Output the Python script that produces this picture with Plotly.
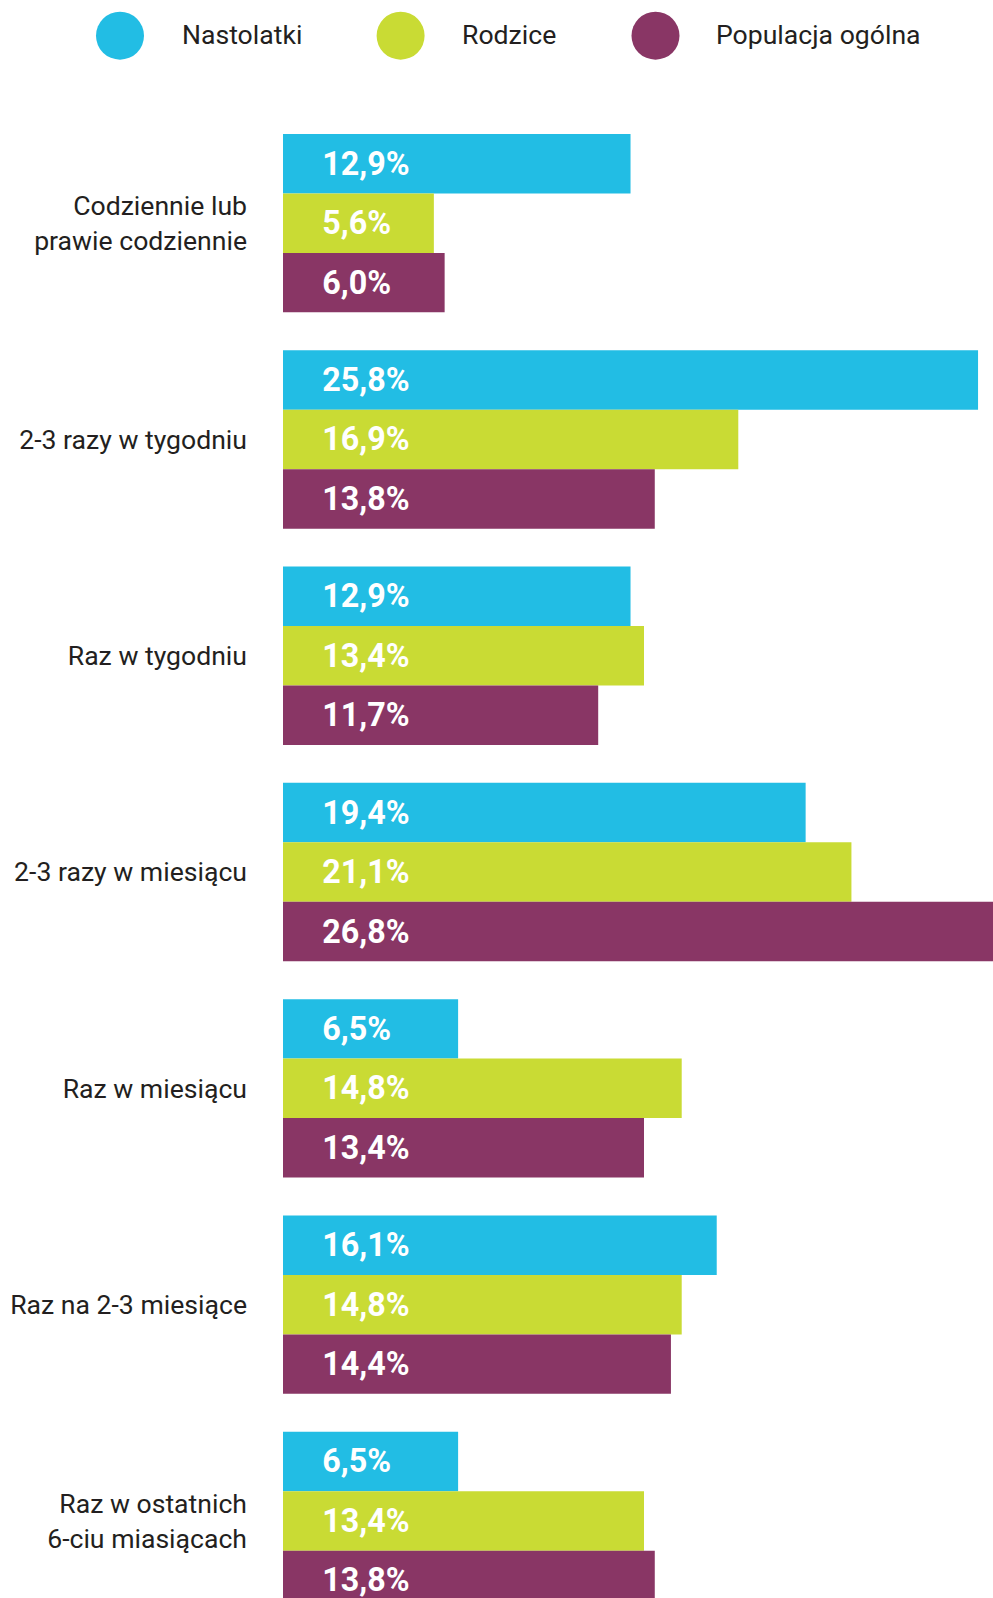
import plotly.graph_objects as go

categories = [
    "Codziennie lub<br>prawie codziennie",
    "2-3 razy w tygodniu",
    "Raz w tygodniu",
    "2-3 razy w miesiącu",
    "Raz w miesiącu",
    "Raz na 2-3 miesiące",
    "Raz w ostatnich<br>6-ciu miasiącach",
]
series_names = ["Nastolatki", "Rodzice", "Populacja ogólna"]
nastolatki = [12.9, 25.8, 12.9, 19.4, 6.5, 16.1, 6.5]
rodzice = [5.6, 16.9, 13.4, 21.1, 14.8, 14.8, 13.4]
populacja = [6.0, 13.8, 11.7, 26.8, 13.4, 14.4, 13.8]
colors = ["#22BDE4", "#C9DB34", "#893665"]

W, H = 993, 1598
L, T = 283, 115
PLOT_W, PLOT_H = W - L, H - T
PX_PER_PCT = 26.94
PITCH = 216.3

def fmt(v):
    return "\u2007" * 2 + f"{v:.1f}".replace(".", ",") + "%"

fig = go.Figure()
for name, vals, col in zip(series_names, [nastolatki, rodzice, populacja], colors):
    fig.add_trace(go.Bar(
        y=categories, x=vals, orientation="h", name=name,
        marker=dict(color=col, line=dict(width=0)),
        text=[fmt(v) for v in vals],
        textposition="inside", insidetextanchor="start",
        textfont=dict(family="Roboto", size=32.3, color="white", weight="bold"),
        constraintext="none",
        showlegend=False, hoverinfo="skip",
    ))

# manual legend (large circles)
leg_circle_y = (H - 35.7) / PLOT_H
leg_text_y = (H - 34) / PLOT_H
leg_circles = [120, 400.6, 655.5]
leg_text_x = [179.5, 460, 714]
shapes, annots = [], []
for cx, tx, name, col in zip(leg_circles, leg_text_x, series_names, colors):
    shapes.append(dict(type="circle", xref="paper", yref="paper",
                       xsizemode="pixel", ysizemode="pixel",
                       xanchor=(cx - L) / PLOT_W, yanchor=leg_circle_y,
                       x0=-24, x1=24, y0=-24, y1=24,
                       fillcolor=col, line=dict(width=0)))
    annots.append(dict(text=name, xref="paper", yref="paper",
                       x=(tx - L) / PLOT_W, y=leg_text_y, xanchor="left", yanchor="middle",
                       showarrow=False,
                       font=dict(family="Roboto", size=26.6, color="#231F20")))

fig.update_layout(
    width=W, height=H,
    margin=dict(l=L, r=0, t=T, b=0, pad=0),
    paper_bgcolor="white", plot_bgcolor="white",
    barmode="group", bargap=0.175, bargroupgap=0,
    shapes=shapes, annotations=annots,
    xaxis=dict(range=[0, PLOT_W / PX_PER_PCT], visible=False, fixedrange=True),
    yaxis=dict(range=[-0.5 + PLOT_H / PITCH, -0.5], showgrid=False, zeroline=False,
               showline=False, ticks="", ticklabelstandoff=35,
               tickfont=dict(family="Roboto", size=26.6, color="#231F20")),
    font=dict(family="Roboto"),
)

fig.write_html("out.html", post_script="document.body.style.margin='0';",
               config={"displayModeBar": False})
